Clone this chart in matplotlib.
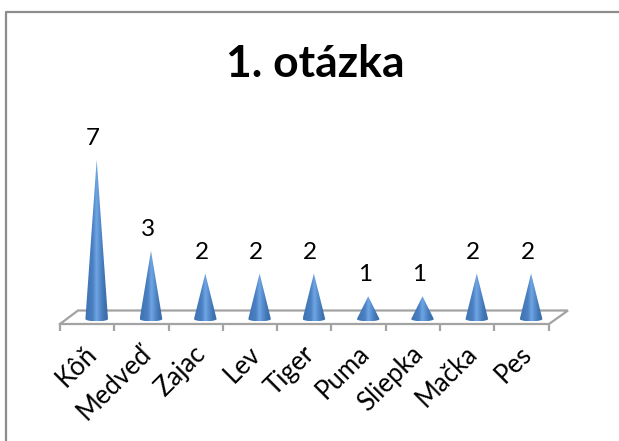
import numpy as np
import matplotlib
matplotlib.use("Agg")
import matplotlib.pyplot as plt
from matplotlib.colors import LinearSegmentedColormap
from matplotlib.path import Path
from matplotlib.patches import PathPatch

categories = ["Kôň", "Medveď", "Zajac", "Lev", "Tiger", "Puma", "Sliepka", "Mačka", "Pes"]
values = [7, 3, 2, 2, 2, 1, 1, 2, 2]

plt.rcParams["font.family"] = ["Lato", "DejaVu Sans"]

W, H = 619, 441
X0, X_STEP = 96.7, 54.3   # pixel of the first cone, pixels per category
Y0, Y_UNIT = 319.0, 22.75  # pixel of value 0, pixels per unit

fig = plt.figure(figsize=(W / 100, H / 100), dpi=100, facecolor="white")
ax = fig.add_axes([0, 0, 1, 1])
ax.axis("off")


def px(x):
    return (x - X0) / X_STEP


def py(y):
    return (Y0 - y) / Y_UNIT


# marco izquierda y arriba
ax.plot([px(6), px(6), px(W)], [py(H), py(12), py(12)], color="#8c8c8c", lw=1.6, solid_capstyle="butt")

# piso
grey = "#a3a3a3"
ax.plot([px(60), px(549), px(568), px(78), px(60), px(60)],
        [py(324), py(324), py(310.5), py(310.5), py(324), py(324)], color=grey, lw=1.6, solid_joinstyle="miter")
for k in range(len(categories) + 1):
    tx = px(60) + k
    ax.plot([tx, tx], [py(324), py(331)], color=grey, lw=1.6, solid_capstyle="butt")

cmap = LinearSegmentedColormap.from_list("cone", ["#3f74b2", "#4479ba", "#4a80c2", "#70a6e2", "#558bcc", "#4074b2", "#3b6ca8"])
grad = np.linspace(0, 1, 64).reshape(1, -1)
half_w = 11.3 / X_STEP
base_h = 2.3 / Y_UNIT

for i, v in enumerate(values):
    t = np.linspace(np.pi, 2 * np.pi, 30)
    arc = [(i + half_w * np.cos(a), base_h * np.sin(a)) for a in t[::-1]]
    outline = [(i, v)] + arc + [(i, v)]
    clip = PathPatch(Path(outline), transform=ax.transData, fc="none", ec="none")
    ax.add_patch(clip)
    im = ax.imshow(grad, cmap=cmap, extent=[i - half_w, i + half_w, -base_h, v], aspect="auto", zorder=3, interpolation="bilinear")
    im.set_clip_path(clip)
    ax.text(i - 3.5 / X_STEP, v + 0.65, str(v), ha="center", va="baseline", fontsize=17.5, color="black", zorder=4)

for k, name in enumerate(categories):
    ax.text(k + px(93.5), py(350), name, rotation=45, rotation_mode="anchor", ha="right", va="center",
            fontsize=18.5, color="black")

ax.text(px(315), py(77), "1. otázka", ha="center", va="baseline", fontsize=32, fontweight="bold", color="black")

ax.set_xlim(px(0), px(W))
ax.set_ylim(py(H), py(0))

fig.savefig("out.png", dpi=100)
